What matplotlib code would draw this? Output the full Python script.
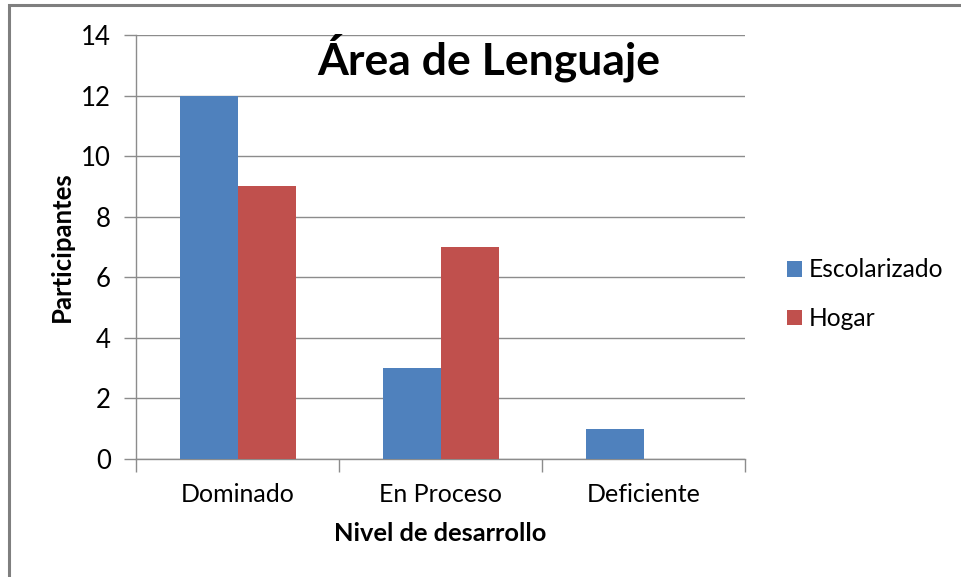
import numpy as np
import matplotlib.pyplot as plt
from matplotlib.patches import Rectangle

# data
categories = ["Dominado", "En Proceso", "Deficiente"]
escolarizado = [12, 3, 1]
hogar = [9, 7, 0]
series_names = ["Escolarizado", "Hogar"]
yticks = [0, 2, 4, 6, 8, 10, 12, 14]

plt.rcParams['font.family'] = ['Lato', 'DejaVu Sans']

fig = plt.figure(figsize=(9.62, 5.77), dpi=100)
ax = fig.add_axes([0.1414, 0.2045, 0.6331, 0.7348])

x = np.arange(len(categories))
w = 1 / 3.5
b1 = ax.bar(x - w / 2, escolarizado, w, color="#4F81BD", label=series_names[0], zorder=3)
b2 = ax.bar(x + w / 2, hogar, w, color="#C0504D", label=series_names[1], zorder=3)

ax.set_xlim(-0.5, len(categories) - 0.5)
ax.set_ylim(0, 14)
ax.set_yticks(yticks)
ax.yaxis.grid(True, color="#8c8c8c", linewidth=1)
ax.set_axisbelow(True)

# category labels at centres, tick marks at the boundaries
ax.set_xticks(x)
ax.set_xticklabels(categories)
ax.set_xticks(np.arange(-0.5, len(categories)), minor=True)
ax.tick_params(axis="x", which="major", length=0, pad=17, labelsize=18)
ax.tick_params(axis="x", which="minor", length=9, color="#8c8c8c", width=1)
ax.tick_params(axis="y", length=9, color="#8c8c8c", width=1, pad=9, labelsize=18.5)

for s in ["top", "right"]:
    ax.spines[s].set_visible(False)
for s in ["left", "bottom"]:
    ax.spines[s].set_color("#8c8c8c")
    ax.spines[s].set_linewidth(1)

ax.set_ylabel("Participantes", fontsize=18.5, fontweight="bold", labelpad=5)
ax.set_xlabel("Nivel de desarrollo", fontsize=18.3, fontweight="bold", labelpad=12)

fig.text(0.508, 0.90, "Área de Lenguaje", fontsize=32, fontweight="bold",
         ha="center", va="center")

leg = fig.legend(handles=[b1, b2], loc="center left", bbox_to_anchor=(0.795, 0.49),
                 frameon=False, fontsize=17.7, handlelength=0.6, handleheight=0.6,
                 handletextpad=0.3, labelspacing=1.05)

# outer chart border (only left and top are inside the picture)
fig.add_artist(Rectangle((9 / 962, -0.1), 1.2, 1.1 - 5 / 577,
                         transform=fig.transFigure, fill=False,
                         edgecolor="#7f7f7f", linewidth=2.2))

fig.savefig("out.png", dpi=100)
